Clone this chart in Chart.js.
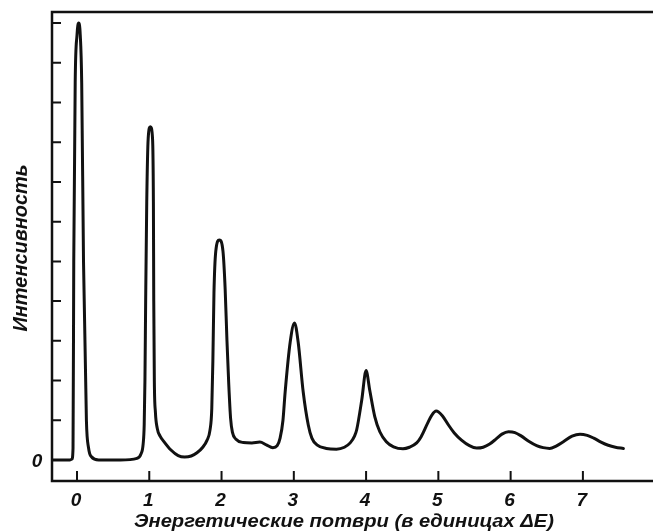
<!DOCTYPE html>
<html>
<head>
<meta charset="utf-8">
<script src="https://cdn.jsdelivr.net/npm/chart.js@4"></script>
<style>
    html, body { margin: 0; padding: 0; background: #fff; overflow: hidden; }
    #wrap { width: 653px; height: 532px; position: relative; }
</style>
</head>
<body>
<div id="wrap"><canvas id="spectrum" width="653" height="532"></canvas></div>
<script>
// Энергетические потери (в единицах ΔE) и интенсивность
const energyLoss = [
    -0.346, -0.1, -0.07, -0.055, -0.045, -0.025, 0.0, 0.023, 0.045, 0.065, 0.09, 0.13, 0.16, 0.2, 0.3, 0.6,
    0.83, 0.885, 0.915, 0.93, 0.94, 0.95, 0.965, 0.985, 1.015, 1.045, 1.057, 1.062, 1.07, 1.085, 1.11,
    1.15, 1.2, 1.3, 1.4, 1.49, 1.58, 1.66, 1.74, 1.8, 1.84, 1.865, 1.88, 1.895, 1.92, 1.97,
    2.02, 2.05, 2.075, 2.1, 2.125, 2.15, 2.2, 2.3, 2.42, 2.53, 2.62, 2.71, 2.77,
    2.81, 2.85, 2.88, 2.95, 3.01, 3.06, 3.13, 3.20, 3.25, 3.32, 3.45, 3.59, 3.7,
    3.78, 3.84, 3.87, 3.94, 4.00, 4.05, 4.12, 4.19, 4.28, 4.38, 4.51, 4.6,
    4.70, 4.76, 4.85, 4.91, 4.97, 5.06, 5.14, 5.22, 5.32, 5.43, 5.53,
    5.62, 5.71, 5.8, 5.88, 5.97, 6.06, 6.15, 6.25, 6.36, 6.45, 6.54,
    6.63, 6.73, 6.85, 6.96, 7.06, 7.15, 7.25, 7.35, 7.45, 7.56
];
const intensity = [
    0, 0, 0.02, 0.3, 5, 9.5, 10.7, 11.0, 10.7, 9.5, 5, 1.0, 0.3, 0.08, 0.0, 0.0,
    0.04, 0.15, 0.4, 0.9, 2.0, 4.0, 6.5, 8.1, 8.39, 8.1, 6.5, 4.0, 2.0, 1.2, 0.8,
    0.6, 0.47, 0.25, 0.11, 0.075, 0.1, 0.18, 0.32, 0.5, 0.75, 1.3, 2.5, 4.2, 5.25, 5.54,
    5.25, 4.3, 3.0, 1.9, 1.05, 0.7, 0.52, 0.44, 0.43, 0.45, 0.38, 0.31, 0.36,
    0.55, 1.0, 1.71, 2.97, 3.45, 2.97, 1.71, 0.88, 0.55, 0.38, 0.29, 0.27, 0.32,
    0.43, 0.6, 0.76, 1.51, 2.25, 1.76, 1.09, 0.71, 0.46, 0.33, 0.28, 0.32,
    0.43, 0.58, 0.92, 1.13, 1.23, 1.1, 0.88, 0.68, 0.5, 0.36, 0.3,
    0.32, 0.4, 0.53, 0.65, 0.71, 0.69, 0.6, 0.47, 0.36, 0.31, 0.29,
    0.35, 0.46, 0.6, 0.65, 0.62, 0.55, 0.45, 0.37, 0.32, 0.29
];

const xTickValues = [0, 1, 2, 3, 4, 5, 6, 7];
const xTickLabels = ['0', '1', '2', '3', '4', '5', '6', '7'];
const yTickValues = [0, 1, 2, 3, 4, 5, 6, 7, 8, 9, 10, 11];
const yTickLabels = ['0', '', '', '', '', '', '', '', '', '', '', ''];

const xTitle = 'Энергетические потври (в единицах ΔE)';
const yTitle = 'Интенсивность';

const INK = '#111';
const LABEL_FONT = 'italic bold 19px "Liberation Sans", "DejaVu Sans", sans-serif';
const X_TITLE_FONT = 'italic bold 18px "Liberation Sans", "DejaVu Sans", sans-serif';
const Y_TITLE_FONT = 'italic bold 21px "Liberation Sans", "DejaVu Sans", sans-serif';

// Рисует текст по базовой линии, подгоняя его под нужную ширину
function drawFitted(ctx, text, cx, baseY, width, font) {
    ctx.save();
    ctx.font = font;
    const w = ctx.measureText(text).width;
    ctx.textAlign = 'center';
    ctx.textBaseline = 'alphabetic';
    ctx.translate(cx, baseY);
    ctx.scale(width / w, 1);
    ctx.fillText(text, 0, 0);
    ctx.restore();
}

// Рамка, внутренние засечки и подписи
const framePlugin = {
    id: 'frame',
    afterDraw(chart) {
        const { ctx, chartArea: a, scales: { x, y } } = chart;
        ctx.save();
        ctx.strokeStyle = INK;
        ctx.fillStyle = INK;

        ctx.lineWidth = 2.5;
        ctx.beginPath();
        ctx.moveTo(a.right, a.top);
        ctx.lineTo(a.left, a.top);
        ctx.lineTo(a.left, a.bottom);
        ctx.lineTo(a.right, a.bottom);
        ctx.stroke();

        ctx.lineWidth = 2;
        ctx.beginPath();
        yTickValues.forEach(v => {
            const py = y.getPixelForValue(v);
            ctx.moveTo(a.left, py);
            ctx.lineTo(a.left + 9, py);
        });
        xTickValues.forEach(v => {
            const px = x.getPixelForValue(v);
            ctx.moveTo(px, a.bottom);
            ctx.lineTo(px, a.bottom - 10);
        });
        ctx.stroke();

        ctx.font = LABEL_FONT;
        ctx.textAlign = 'center';
        ctx.textBaseline = 'alphabetic';
        xTickValues.forEach((v, i) => {
            ctx.fillText(xTickLabels[i], x.getPixelForValue(v) - 1, a.bottom + 25);
        });
        yTickValues.forEach((v, i) => {
            if (yTickLabels[i]) ctx.fillText(yTickLabels[i], a.left - 15, y.getPixelForValue(v) + 7);
        });

        drawFitted(ctx, xTitle, 344, 527, 420, X_TITLE_FONT);

        ctx.translate(27, 248);
        ctx.rotate(-Math.PI / 2);
        drawFitted(ctx, yTitle, 0, 0, 167, Y_TITLE_FONT);

        ctx.restore();
    }
};

const chart = new Chart(document.getElementById('spectrum'), {
    type: 'line',
    data: {
        datasets: [{
            label: yTitle,
            data: energyLoss.map((e, i) => ({ x: e, y: intensity[i] })),
            borderColor: INK,
            borderWidth: 3,
            pointRadius: 0,
            fill: false,
            cubicInterpolationMode: 'monotone',
            borderCapStyle: 'round',
            borderJoinStyle: 'round'
        }]
    },
    options: {
        responsive: false,
        animation: false,
        devicePixelRatio: 1,
        layout: { padding: { left: 52, top: 12, right: 0, bottom: 51 } },
        scales: {
            x: { type: 'linear', min: -0.346, max: 7.97, display: false },
            y: { type: 'linear', min: -0.53, max: 11.28, display: false }
        },
        plugins: {
            legend: { display: false },
            tooltip: { enabled: false }
        }
    },
    plugins: [framePlugin]
});
</script>
</body>
</html>
